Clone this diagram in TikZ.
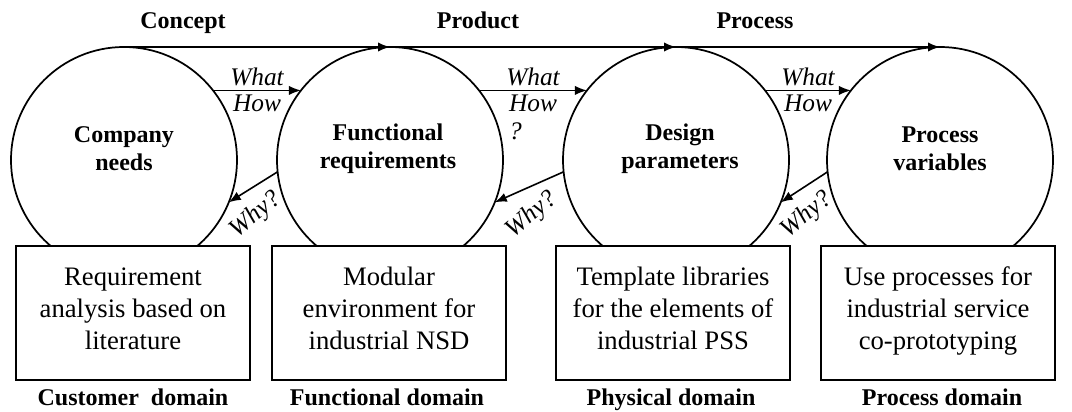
\documentclass[tikz,border=0pt]{standalone}
\usepackage{fontspec}
\setmainfont{Liberation Serif}
\usetikzlibrary{arrows.meta,positioning}
\begin{document}
\begin{tikzpicture}[x=0.75pt,y=0.75pt,
  domcirc/.style={draw,line width=1.3pt,circle,minimum size=169.5pt,inner sep=0pt,outer sep=0pt},
  circtxt/.style={font=\bfseries\fontsize{18}{21}\selectfont,align=center},
  headtxt/.style={font=\bfseries\fontsize{18}{21}\selectfont,anchor=base},
  toolbox/.style={draw,line width=1.3pt,fill=white,minimum width=175.5pt,minimum height=100.5pt,align=center,font=\fontsize{20}{24}\selectfont,
    execute at begin node=\rule{0pt}{24pt},execute at end node=\strut},
  qtxt/.style={font=\itshape\fontsize{19}{21}\selectfont,inner sep=3pt},
  whytxt/.style={font=\itshape\fontsize{19}{21}\selectfont,inner sep=1pt,xshift=2pt,yshift=-21pt,rotate=40},
  link/.style={line width=1.2pt,-{Latex[length=9pt,width=7pt]}}]
\useasboundingbox (0,0) rectangle (1072,411);
\node[domcirc] (cn) at (124,251) {};
\node[domcirc] (fr) at (390,251) {};
\node[domcirc] (dp) at (676,251) {};
\node[domcirc] (pv) at (940,251) {};
\node[circtxt] (cnt) at (124,262) {Company\\needs};
\node[circtxt] (frt) at (388,262) {Functional\\requirements};
\node[circtxt] (dpt) at (680,262) {Design\\parameters};
\node[circtxt] (pvt) at (940,262) {Process\\variables};
\node[headtxt] (concept) at (183,382) {Concept};
\node[headtxt] (product) at (478,382) {Product};
\node[headtxt] (process) at (755,382) {Process};
\draw[link] (cn.north) -- (fr.north);
\draw[link] (fr.north) -- (dp.north);
\draw[link] (dp.north) -- (pv.north);
\draw[link] (cn.38) -- node[qtxt,above] (what1) {What} node[qtxt,below] (how1) {How} (fr.142);
\draw[link] (fr.38) -- node[qtxt,above] (what2) {What} node[qtxt,below,align=left] (how2) {How\\?} (dp.142);
\draw[link] (dp.38) -- node[qtxt,above] (what3) {What} node[qtxt,below] (how3) {How} (pv.142);
\draw[link] (fr.186) -- node[whytxt] (why1) {Why?} (cn.338);
\draw[link] (dp.186) -- node[whytxt] (why2) {Why?} (fr.338);
\draw[link] (pv.186) -- node[whytxt] (why3) {Why?} (dp.338);
\node[toolbox] (rb1) at (133,98) {Requirement\\analysis based on\\literature};
\node[toolbox] (rb2) at (389,98) {Modular\\environment for\\industrial NSD};
\node[toolbox] (rb3) at (673,98) {Template libraries\\for the elements of\\industrial PSS};
\node[toolbox] (rb4) at (938,98) {Use processes for\\industrial service\\co-prototyping};
\node[headtxt] (cdom) at (133,6) {Customer\ \ domain};
\node[headtxt] (fdom) at (387,6) {Functional domain};
\node[headtxt] (phdom) at (671,6) {Physical domain};
\node[headtxt] (prdom) at (942,6) {Process domain};
\end{tikzpicture}
\end{document}
